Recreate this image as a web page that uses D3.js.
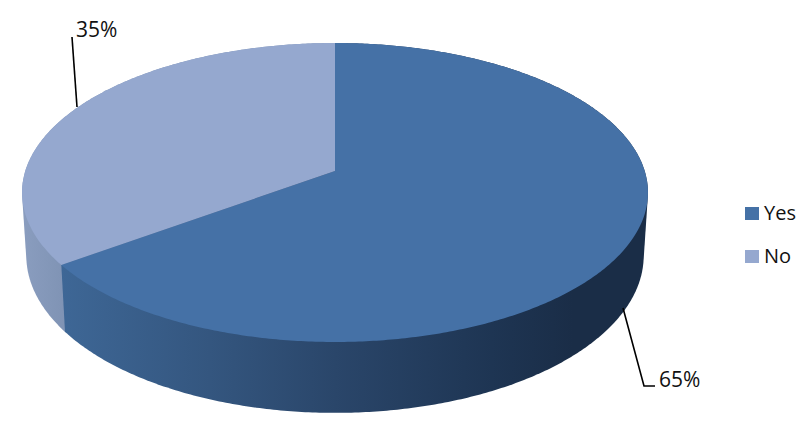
<!DOCTYPE html>
<html>
<head>
<meta charset="utf-8">
<script src="https://cdn.jsdelivr.net/npm/d3@7"></script>
<style>
html, body { margin: 0; padding: 0; background: #fff; }
svg { display: block; }
text { font-family: "Open Sans", sans-serif; font-size: 20px; fill: #111; }
.valueLabel { font-size: 21px; }
</style>
</head>
<body>
<div id="chart"></div>
<script>
var categories = ['Yes', 'No'];
var values = [65, 35];
var valueLabels = ['65%', '35%'];

var svgWidth = 810;
var svgHeight = 428;
var topColors = ['#4571a6', '#95a8cf'];

// perspective projection of the unit circle, one plane for the top face and one for the bottom
var topPlane = { cx: 335, cy: 171, a: 146.4, A: 309.7, b: 0.1438 };
var bottomPlane = { cx: 335, cy: 233, a: 154, A: 305.5, b: 0.1438 };

function project(plane, angle) {
    var X = Math.sin(angle);
    var Y = -Math.cos(angle);
    var k = 1 / (1 - plane.b * Y);
    return [plane.cx + plane.A * X * k, plane.cy + plane.a * Y * k];
}

function arcPoints(plane, start, end) {
    var n = Math.max(2, Math.ceil((end - start) / 0.01));
    return d3.range(n + 1).map(i => project(plane, start + (end - start) * i / n));
}

var svg = d3.select('#chart')
    .append('svg')
    .attr('width', svgWidth)
    .attr('height', svgHeight);

var defs = svg.append('defs');

function addGradient(id, stops) {
    var g = defs.append('linearGradient')
        .attr('id', id)
        .attr('gradientUnits', 'userSpaceOnUse')
        .attr('x1', 22).attr('x2', 648)
        .attr('y1', 0).attr('y2', 0);
    stops.forEach(function (s) {
        g.append('stop').attr('offset', s[0]).attr('stop-color', s[1]);
    });
}

addGradient('sideYes', [[0.06, '#3e6796'], [0.3, '#34567f'], [0.5, '#2a466a'], [0.75, '#1e3553'], [0.88, '#1a2d47'], [1, '#1a2d47']]);
addGradient('sideNo', [[0, '#8a9dbf'], [0.07, '#7f93b4']]);

var pie = d3.pie().sort(null);
var slices = pie(values);
var line = d3.line();
var sideFills = ['url(#sideYes)', 'url(#sideNo)'];

// side walls, the last slice first so the front wall stays on top
svg.selectAll('.side')
    .data(slices.slice().reverse())
    .enter()
    .append('path')
    .attr('class', 'side')
    .attr('fill', d => sideFills[d.index])
    .attr('d', function (d) {
        var pts = arcPoints(topPlane, d.startAngle, d.endAngle)
            .concat(arcPoints(bottomPlane, d.startAngle, d.endAngle));
        return line(d3.polygonHull(pts)) + 'Z';
    });

// top faces
svg.selectAll('.face')
    .data(slices)
    .enter()
    .append('path')
    .attr('class', 'face')
    .attr('fill', (d, i) => topColors[i])
    .attr('d', function (d) {
        var pts = [[topPlane.cx, topPlane.cy]].concat(arcPoints(topPlane, d.startAngle, d.endAngle));
        return line(pts) + 'Z';
    });

// leader lines
var leaders = [
    [[623, 308], [644, 386], [655, 386]],
    [[77, 107], [72, 37]]
];
svg.selectAll('.leader')
    .data(leaders)
    .enter()
    .append('path')
    .attr('class', 'leader')
    .attr('fill', 'none')
    .attr('stroke', '#000')
    .attr('stroke-width', 1.6)
    .attr('d', d => line(d));

var labelPos = [[659, 387], [76, 37]];
svg.selectAll('.valueLabel')
    .data(valueLabels)
    .enter()
    .append('text')
    .attr('class', 'valueLabel')
    .attr('x', (d, i) => labelPos[i][0])
    .attr('y', (d, i) => labelPos[i][1])
    .text(d => d);

// legend
var legendY = d3.scalePoint().domain(categories).range([220, 263]);
var legend = svg.selectAll('.legend')
    .data(categories)
    .enter()
    .append('g')
    .attr('class', 'legend')
    .attr('transform', d => `translate(745, ${legendY(d)})`);
legend.append('rect')
    .attr('x', 0)
    .attr('y', -13)
    .attr('width', 14)
    .attr('height', 13)
    .attr('fill', (d, i) => topColors[i]);
legend.append('text')
    .attr('x', 19)
    .attr('y', 0)
    .text(d => d);
</script>
</body>
</html>
